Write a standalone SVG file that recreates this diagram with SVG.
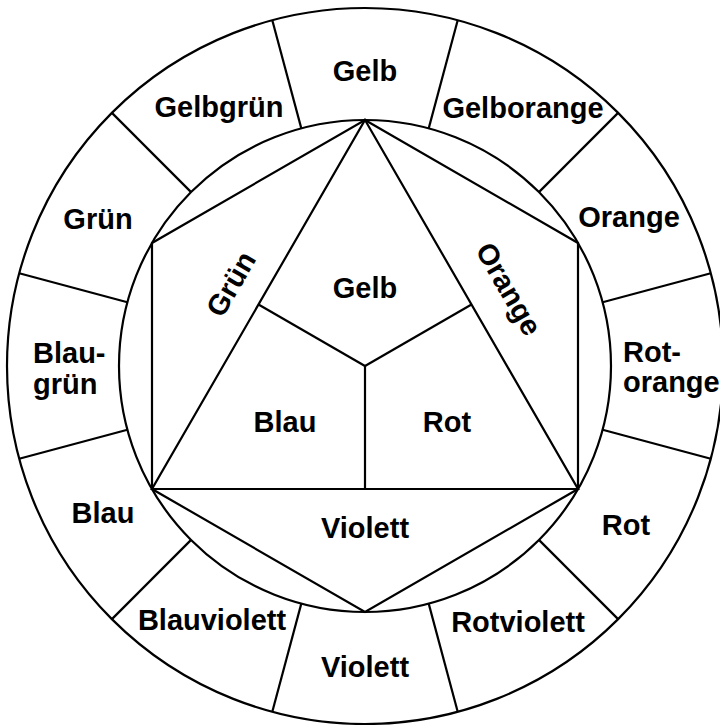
<svg xmlns="http://www.w3.org/2000/svg" width="720" height="725" viewBox="0 0 720 725">
<style>
.ln{fill:none;stroke:#000;stroke-width:2.2;stroke-linejoin:miter}
.t{font-family:"Liberation Sans",Arial,sans-serif;font-weight:bold;font-size:29px;fill:#000}
.m{text-anchor:middle}
</style>
<rect width="720" height="725" fill="#fff"/>
<g id="rings">
<circle class="ln" cx="365" cy="366" r="358"/>
<circle class="ln" cx="365" cy="366" r="246"/>
</g>
<g id="dividers" class="ln">
<line x1="428.7" y1="128.4" x2="457.7" y2="20.2"/>
<line x1="538.9" y1="192.1" x2="618.1" y2="112.9"/>
<line x1="602.6" y1="302.3" x2="710.8" y2="273.3"/>
<line x1="602.6" y1="429.7" x2="710.8" y2="458.7"/>
<line x1="538.9" y1="539.9" x2="618.1" y2="619.1"/>
<line x1="428.7" y1="603.6" x2="457.7" y2="711.8"/>
<line x1="301.3" y1="603.6" x2="272.3" y2="711.8"/>
<line x1="191.1" y1="539.9" x2="111.9" y2="619.1"/>
<line x1="127.4" y1="429.7" x2="19.2" y2="458.7"/>
<line x1="127.4" y1="302.3" x2="19.2" y2="273.3"/>
<line x1="191.1" y1="192.1" x2="111.9" y2="112.9"/>
<line x1="301.3" y1="128.4" x2="272.3" y2="20.2"/>
</g>
<g id="connectors" class="ln">
<polygon points="365,120 578,243 578,489 365,612 152,489 152,243"/>
<polygon points="365,120 578,489 152,489"/>
<line x1="365" y1="366" x2="258.5" y2="304.5"/>
<line x1="365" y1="366" x2="471.5" y2="304.5"/>
<line x1="365" y1="366" x2="365" y2="489"/>
</g>
<g id="outer-gelb"><text class="t m" x="365" y="81">Gelb</text></g>
<g id="outer-gelborange"><text class="t m" x="523" y="118">Gelborange</text></g>
<g id="outer-orange"><text class="t m" x="629" y="227">Orange</text></g>
<g id="outer-rotorange"><text class="t" x="623" y="362">Rot-</text><text class="t" x="623" y="392">orange</text></g>
<g id="outer-rot"><text class="t m" x="626" y="535">Rot</text></g>
<g id="outer-rotviolett"><text class="t m" x="518" y="632">Rotviolett</text></g>
<g id="outer-violett"><text class="t m" x="365" y="677">Violett</text></g>
<g id="outer-blauviolett"><text class="t m" x="212" y="630">Blauviolett</text></g>
<g id="outer-blau"><text class="t m" x="103" y="523">Blau</text></g>
<g id="outer-blaugruen"><text class="t" x="33" y="363">Blau-</text><text class="t" x="33" y="394">grün</text></g>
<g id="outer-gruen"><text class="t m" x="98" y="229">Grün</text></g>
<g id="outer-gelbgruen"><text class="t m" x="219" y="117">Gelbgrün</text></g>
<g id="inner-gelb"><text class="t m" x="365" y="298">Gelb</text></g>
<g id="inner-blau"><text class="t m" x="285" y="432">Blau</text></g>
<g id="inner-rot"><text class="t m" x="447" y="432">Rot</text></g>
<g id="inner-violett"><text class="t m" x="365" y="538">Violett</text></g>
<g id="inner-gruen" transform="translate(231,284) rotate(-60)"><text class="t m" x="0" y="10">Grün</text></g>
<g id="inner-orange" transform="translate(507,290) rotate(60)"><text class="t m" x="0" y="8">Orange</text></g>
</svg>
